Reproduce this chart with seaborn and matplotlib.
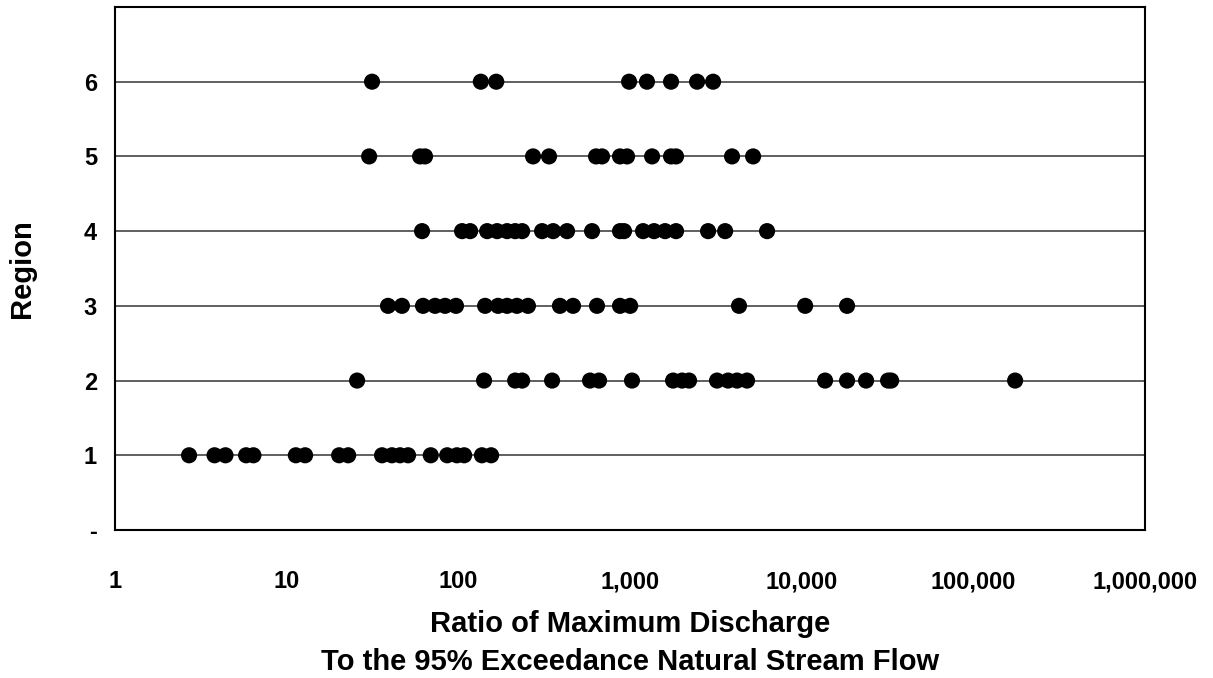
import pandas as pd
import matplotlib
matplotlib.use("Agg")
import matplotlib.pyplot as plt
import matplotlib.ticker as mticker
import seaborn as sns

# ratio values, one list per region
region1 = [2.7, 3.8, 4.4, 5.8, 6.4, 11.3, 12.8, 20.2, 22.8, 35.9, 41, 45.7, 50.9,
           69, 86, 98, 108, 137, 155]
region2 = [25.7, 141, 214, 235, 351, 584, 659, 1025, 1778, 2006, 2203, 3206, 3716,
           4192, 4793, 13650, 18330, 23650, 31770, 33100, 174500]
region3 = [38.9, 46.9, 62.2, 73.1, 83.6, 96.8, 143, 170, 192, 219, 254, 390, 465,
           641, 873, 1000, 4305, 10450, 18330]
region4 = [61.4, 105, 117, 147, 168, 192, 214, 235, 307, 356, 429, 600, 873, 921,
           1189, 1378, 1597, 1850, 2843, 3574, 6270]
region5 = [30.2, 59.8, 63.9, 272, 337, 633, 686, 873, 959, 1342, 1730, 1850, 3920, 5200]
region6 = [31.4, 135, 166, 986, 1253, 1730, 2454, 3041]

x_ticks = [1, 10, 100, 1000, 10000, 100000, 1000000]
y_ticks = [0, 1, 2, 3, 4, 5, 6]
y_tick_labels = ["-", "1", "2", "3", "4", "5", "6"]

rows = []
for reg, vals in enumerate([region1, region2, region3, region4, region5, region6], start=1):
    for v in vals:
        rows.append({"ratio": v, "region": reg})
df = pd.DataFrame(rows)

sns.set_style("white")
plt.rcParams["font.family"] = ["Liberation Sans", "DejaVu Sans"]
plt.rcParams["font.weight"] = "bold"
plt.rcParams["text.color"] = "black"
plt.rcParams["axes.labelcolor"] = "black"
plt.rcParams["xtick.color"] = "black"
plt.rcParams["ytick.color"] = "black"

fig = plt.figure(figsize=(12.13, 6.78), dpi=100)
ax = fig.add_axes([0.0948, 0.2183, 0.8494, 0.7714])

for y in range(1, 7):
    ax.axhline(y, color="#444444", lw=1.2, zorder=1)

sns.scatterplot(data=df, x="ratio", y="region", ax=ax, color="black", s=135,
                edgecolor="none", zorder=3, legend=False)

ax.set_xscale("log")
ax.set_xlim(1, 1000000)
ax.set_ylim(0, 7)
ax.set_xticks(x_ticks)
ax.xaxis.set_major_formatter(mticker.FuncFormatter(lambda v, p: f"{int(round(v)):,}"))
ax.xaxis.set_minor_locator(mticker.NullLocator())
ax.set_yticks(y_ticks)
ax.set_yticklabels(y_tick_labels)

for s in ax.spines.values():
    s.set_color("black")
    s.set_linewidth(1.5)
ax.tick_params(axis="both", direction="out", length=7, width=1.2, color="black",
               labelsize=17, labelcolor="black")
ax.tick_params(axis="x", pad=22)
ax.tick_params(axis="y", pad=6)
for lab in ax.get_xticklabels() + ax.get_yticklabels():
    lab.set_fontweight("bold")

ax.set_xlabel("Ratio of Maximum Discharge\nTo the 95% Exceedance Natural Stream Flow",
              fontsize=21, fontweight="bold", labelpad=12, linespacing=1.45)
ax.set_ylabel("Region", fontsize=21, fontweight="bold", labelpad=34)

fig.savefig("out.png", dpi=100)
